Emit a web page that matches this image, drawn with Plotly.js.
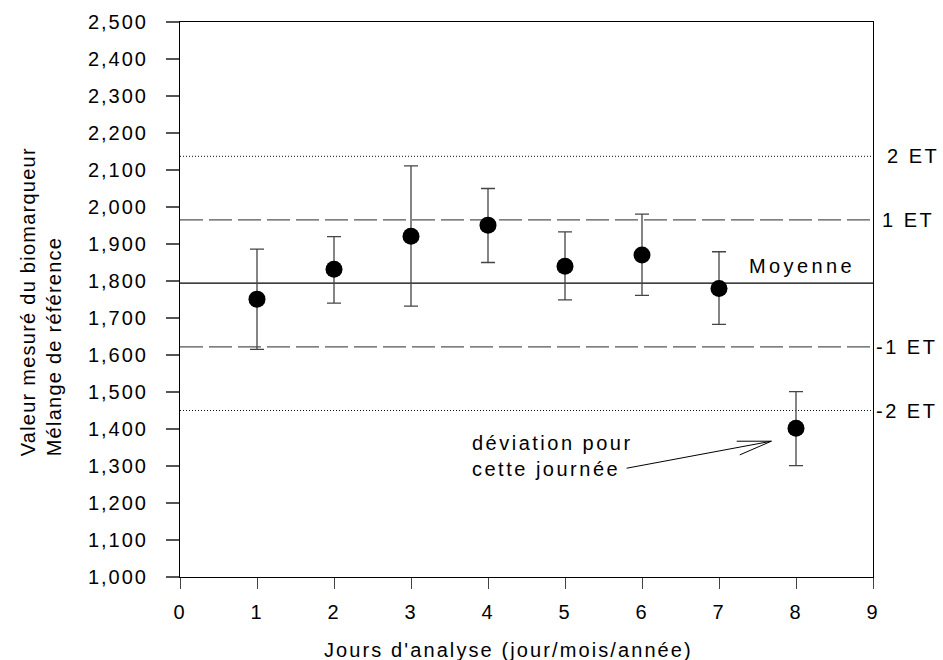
<!DOCTYPE html>
<html>
<head>
<meta charset="utf-8">
<script src="https://cdn.plot.ly/plotly-3.0.1.min.js"></script>
<style>
  html, body { margin: 0; padding: 0; background: #fff; }
  #chart { width: 943px; height: 660px; }
  .xtick text, .ytick text { letter-spacing: 2px; }
  .annotation-text { letter-spacing: 2.5px; }
  text[data-unformatted^="Jours"] { letter-spacing: 2.1px; }
  text[data-unformatted^="Moyenne"] { letter-spacing: 3.4px; }
  text[data-unformatted^="Valeur"] { letter-spacing: 1.25px; }
</style>
</head>
<body>
<div id="chart"></div>
<script>
// Data
const days = [1, 2, 3, 4, 5, 6, 7, 8];
const values = [1751, 1832, 1921, 1951, 1840, 1870, 1780, 1402];
const upper = [1886, 1920, 2111, 2050, 1933, 1981, 1879, 1501];
const lower = [1615, 1740, 1732, 1850, 1749, 1761, 1683, 1301];

const refNames = ['2 ET', '1 ET', 'Moyenne', '-1 ET', '-2 ET'];
const refValues = [2137, 1965, 1794, 1622, 1450];

const xTicks = [0, 1, 2, 3, 4, 5, 6, 7, 8, 9];
const yTicks = [1000, 1100, 1200, 1300, 1400, 1500, 1600, 1700, 1800, 1900, 2000, 2100, 2200, 2300, 2400, 2500];

const xTitle = "Jours d'analyse (jour/mois/année)";
const yTitle = 'Valeur mesuré du biomarqueur<br>Mélange de référence';
const noteText = 'déviation pour<br>cette journée';

const errPlus = values.map((v, i) => upper[i] - v);
const errMinus = values.map((v, i) => v - lower[i]);

const refStyles = {
  '2 ET': {dash: '1px,2px', color: '#111', width: 1},
  '1 ET': {dash: '23px,6px', color: '#555', width: 1.2},
  'Moyenne': {dash: 'solid', color: '#000', width: 1.2},
  '-1 ET': {dash: '23px,6px', color: '#555', width: 1.2},
  '-2 ET': {dash: '1px,2px', color: '#111', width: 1}
};

const traces = [];
refNames.forEach((n, i) => {
  traces.push({
    x: [xTicks[0], xTicks[xTicks.length - 1]],
    y: [refValues[i], refValues[i]],
    mode: 'lines',
    line: refStyles[n],
    hoverinfo: 'skip',
    showlegend: false
  });
});
traces.push({
  x: days,
  y: values,
  mode: 'markers',
  marker: {symbol: 'circle', size: 17, color: '#000'},
  error_y: {type: 'data', symmetric: false, array: errPlus, arrayminus: errMinus,
            color: '#444', thickness: 1.3, width: 7},
  showlegend: false
});

const FAM = 'Liberation Sans, Arial, sans-serif';
const font = {family: FAM, size: 20, color: '#000'};

const annotations = [];
refNames.forEach((n, i) => {
  if (n === 'Moyenne') {
    annotations.push({x: 8.08, y: refValues[i], xref: 'x', yref: 'y', text: n,
      showarrow: false, xanchor: 'center', yanchor: 'bottom', yshift: 4, font: font});
  } else {
    annotations.push({x: 9, y: refValues[i], xref: 'x', yref: 'y', text: n,
      showarrow: false, xanchor: 'left', yanchor: 'middle',
      xshift: n.startsWith('-') ? 1 : (n === '2 ET' ? 12 : 7), font: font});
  }
});
annotations.push({x: 3.77, y: 1328, xref: 'x', yref: 'y',
  text: noteText, align: 'left',
  showarrow: false, xanchor: 'left', yanchor: 'middle', font: font});
// axis titles as annotations (placed like the reference)
annotations.push({x: 4.26, y: 0, xref: 'x', yref: 'paper', text: xTitle,
  showarrow: false, xanchor: 'center', yanchor: 'top', yshift: -60, font: font});
annotations.push({x: -0.2005, y: 0.495, xref: 'paper', yref: 'paper', text: yTitle,
  showarrow: false, textangle: -90, align: 'left', xanchor: 'center', yanchor: 'middle',
  font: font});

const layout = {
  width: 943, height: 660,
  margin: {l: 180, r: 70, t: 22, b: 83},
  paper_bgcolor: '#fff', plot_bgcolor: '#fff',
  font: font,
  showlegend: false,
  xaxis: {
    range: [0, 9], tickvals: xTicks, ticktext: xTicks.map(String),
    showgrid: false, zeroline: false,
    showline: true, linecolor: '#000', linewidth: 1, mirror: true,
    ticks: 'outside', ticklen: 11, tickcolor: '#444', tickwidth: 1,
    tickfont: font, ticklabelstandoff: 6
  },
  yaxis: {
    range: [1000, 2500], tickvals: yTicks, tickformat: ',.0f',
    showgrid: false, zeroline: false,
    showline: true, linecolor: '#000', linewidth: 1, mirror: true,
    ticks: 'outside', ticklen: 13, tickcolor: '#555', tickwidth: 1.2,
    tickfont: font, ticklabelstandoff: 14
  },
  shapes: [
    {type: 'path', xref: 'x', yref: 'y',
     path: 'M 5.80 1294 L 7.68 1367 M 7.23 1367 L 7.68 1367 L 7.27 1330',
     line: {color: '#000', width: 1}}
  ],
  annotations: annotations
};

Plotly.newPlot('chart', traces, layout, {displayModeBar: false, staticPlot: true});
</script>
</body>
</html>
